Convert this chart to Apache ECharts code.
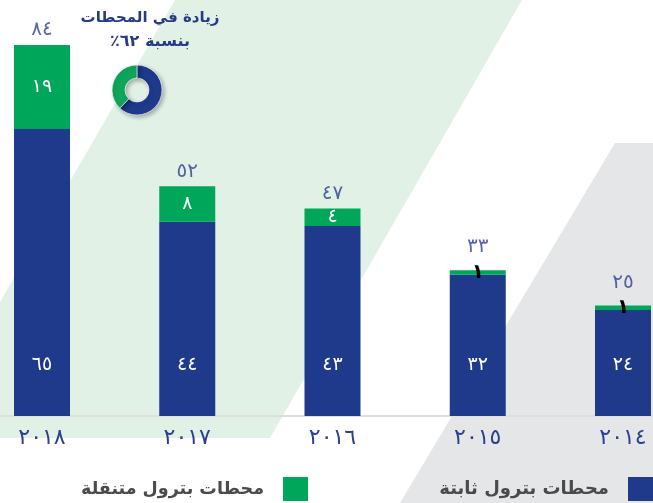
<!DOCTYPE html>
<html>
<head>
<meta charset="utf-8">
<script src="https://cdn.jsdelivr.net/npm/echarts@6/dist/echarts.min.js"></script>
<style>
html,body{margin:0;padding:0;background:#fff;}
#c{width:653px;height:503px;}
</style>
</head>
<body>
<div id="c"></div>
<script>
// ---- data ----
var categories = ['٢٠١٨', '٢٠١٧', '٢٠١٦', '٢٠١٥', '٢٠١٤'];
var fixedStations = [65, 44, 43, 32, 24];
var mobileStations = [19, 8, 4, 1, 1];
var totals = [84, 52, 47, 33, 25];
var seriesNames = ['محطات بترول ثابتة', 'محطات بترول متنقلة'];
var donutValues = [62, 38];
var titleLines = ['زيادة في المحطات', 'بنسبة ٦٢٪\u200F'];

// ---- styles ----
var BLUE = '#1f398b';
var GREEN = '#00a65a';
var FONT = 'DejaVu Sans';

function toAr(n) {
  return String(n).replace(/\d/g, function (d) { return '٠١٢٣٤٥٦٧٨٩'[+d]; });
}

var chart = echarts.init(document.getElementById('c'), null, {renderer: 'canvas'});

var option = {
  animation: false,
  backgroundColor: '#ffffff',
  textStyle: {fontFamily: FONT},
  grid: [
    {left: 42, right: 30, top: 18.5, bottom: 87, containLabel: false},
    {left: 0, right: 0, top: 18.5, bottom: 87, containLabel: false}
  ],
  xAxis: [
    {
      type: 'category',
      gridIndex: 0,
      data: categories,
      boundaryGap: false,
      axisLine: {show: false},
      axisTick: {show: false},
      axisLabel: {color: '#2a3f8f', fontSize: 22, margin: 11, fontFamily: FONT}
    },
    {
      type: 'value',
      gridIndex: 1,
      min: 0, max: 1,
      axisLine: {show: true, onZero: false, lineStyle: {color: '#dedede', width: 2}},
      axisTick: {show: false},
      axisLabel: {show: false},
      splitLine: {show: false}
    }
  ],
  yAxis: [
    {type: 'value', gridIndex: 0, min: 0, max: 90, show: false, splitLine: {show: false}},
    {type: 'value', gridIndex: 1, min: 0, max: 90, show: false, splitLine: {show: false}}
  ],
  legend: [
    {
      data: [seriesNames[0]],
      right: 0, top: 477,
      align: 'right',
      itemWidth: 25, itemHeight: 24,
      padding: 0,
      icon: 'rect',
      textStyle: {color: '#4a4a4a', fontSize: 18, fontWeight: 'bold', fontFamily: FONT, padding: [0, 14, 0, 0]}
    },
    {
      data: [seriesNames[1]],
      right: 345, top: 477,
      align: 'right',
      itemWidth: 25, itemHeight: 24,
      padding: 0,
      icon: 'rect',
      textStyle: {color: '#4a4a4a', fontSize: 17.5, fontWeight: 'bold', fontFamily: FONT, padding: [0, 14, 0, 0]}
    }
  ],
  graphic: {
    elements: [
      {
        type: 'polygon', z: -10, silent: true,
        shape: {points: [[175, 0], [522, 0], [270, 438], [0, 438], [0, 302]]},
        style: {fill: '#e1f1e6'}
      },
      {
        type: 'polygon', z: -10, silent: true,
        shape: {points: [[615, 143], [653, 143], [653, 503], [400, 503]]},
        style: {fill: '#e5e6e8'}
      },
      {
        type: 'text', z: 10,
        style: {text: titleLines[0], x: 150, y: 18, align: 'center', verticalAlign: 'middle',
                font: 'bold 15px "' + FONT + '"', fill: '#253b87'}
      },
      {
        type: 'text', z: 10,
        style: {text: titleLines[1], x: 150, y: 42, align: 'center', verticalAlign: 'middle',
                font: 'bold 16px "' + FONT + '"', fill: '#253b87'}
      }
    ]
  },
  series: [
    {
      name: seriesNames[0],
      type: 'bar',
      stack: 'st',
      barWidth: 56,
      clip: false,
      data: fixedStations,
      itemStyle: {color: BLUE},
      label: {
        show: true, position: 'insideBottom', distance: 41,
        color: '#ffffff', fontSize: 19, fontFamily: FONT,
        formatter: function (p) { return toAr(p.value); }
      }
    },
    {
      name: seriesNames[1],
      type: 'bar',
      stack: 'st',
      barWidth: 56,
      clip: false,
      data: mobileStations,
      itemStyle: {color: GREEN},
      label: {
        show: true, position: 'inside',
        formatter: function (p) { return (p.value <= 1 ? '{k|' : '{w|') + toAr(p.value) + '}'; },
        rich: {
          w: {color: '#ffffff', fontSize: 19, fontFamily: FONT},
          k: {color: '#000000', fontSize: 20, fontWeight: 'bold', fontFamily: FONT}
        }
      }
    },
    {
      name: 'totals',
      type: 'scatter',
      symbolSize: 0,
      clip: false,
      data: totals.map(function (v, i) {
        return {
          value: v,
          label: {distance: mobileStations[i] <= 1 ? 13 : 5}
        };
      }),
      label: {
        show: true, position: 'top',
        color: '#2a3f8f', fontSize: 20, fontFamily: FONT,
        formatter: function (p) { return toAr(p.value); }
      },
      z: 5
    },
    {
      name: 'donut',
      type: 'pie',
      center: [137, 90],
      radius: [12, 25],
      startAngle: 90,
      clockwise: true,
      silent: true,
      label: {show: false},
      labelLine: {show: false},
      data: [
        {value: donutValues[0], itemStyle: {color: BLUE}},
        {value: donutValues[1], itemStyle: {color: '#0fa55a'}}
      ],
      itemStyle: {
        borderColor: '#ffffff', borderWidth: 0.6,
        shadowBlur: 4, shadowColor: 'rgba(0,0,0,0.3)', shadowOffsetX: 2, shadowOffsetY: 2
      },
      z: 6
    }
  ]
};

chart.setOption(option);
</script>
</body>
</html>
